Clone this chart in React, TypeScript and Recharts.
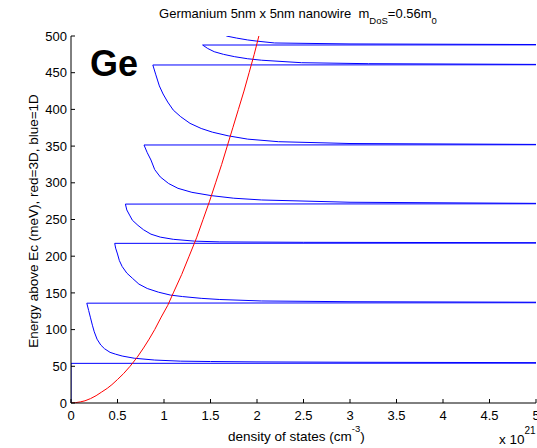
import React from 'react';
import { LineChart, Line, XAxis, YAxis, Customized } from 'recharts';

// Axis ticks
const xTicks = [0, 0.5, 1, 1.5, 2, 2.5, 3, 3.5, 4, 4.5, 5];
const yTicks = [0, 50, 100, 150, 200, 250, 300, 350, 400, 450, 500];

// Red: bulk (3D) density of states
const dos3dE = [0, 0.5, 1.5, 3, 6, 10, 15, 20, 25, 32, 40, 50, 62, 75, 87, 100, 117, 133, 150, 175, 200, 225, 250, 275, 300, 325, 350, 375, 400, 425, 450, 475, 500];
const dos3dX = [0, 0.05, 0.1, 0.15, 0.21, 0.27, 0.33, 0.39, 0.44, 0.5, 0.565, 0.635, 0.71, 0.78, 0.84, 0.9, 0.97, 1.04, 1.1, 1.19, 1.27, 1.35, 1.42, 1.49, 1.555, 1.62, 1.68, 1.74, 1.8, 1.86, 1.915, 1.97, 2.02];

// Blue: nanowire (1D) density of states (in drawing order)
const dos1dX = [
  0, 0, 5,
  5, 3, 2, 1.5, 1.18, 0.9, 0.68, 0.55, 0.48, 0.42, 0.36, 0.32, 0.28, 0.25, 0.23, 0.21, 0.19, 0.17,
  5,
  5, 3, 2.05, 1.6, 1.4, 1.2, 1.07, 0.94, 0.82, 0.73, 0.66, 0.6, 0.55, 0.52, 0.5, 0.48, 0.47,
  5,
  5, 2.5, 1.6, 1.33, 1.1, 0.96, 0.86, 0.78, 0.72, 0.66, 0.63, 0.6, 0.585,
  5,
  5, 3, 2.05, 1.75, 1.51, 1.3, 1.15, 1.05, 0.96, 0.9, 0.86, 0.82, 0.785,
  5,
  5, 3, 2.23, 1.9, 1.69, 1.52, 1.4, 1.28, 1.18, 1.1, 1.04, 0.99, 0.95, 0.93, 0.91, 0.88,
  5,
  5, 3.2, 2.48, 2.05, 1.9, 1.76, 1.64, 1.54, 1.47, 1.415,
  5,
  5, 3, 2.19, 2, 1.9, 1.78, 1.67,
];
const dos1dE = [
  0, 54, 54.3,
  55, 55.5, 56, 56.5, 57, 58.5, 61, 64, 66.5, 69, 74, 79, 87, 97, 106, 116, 126, 136,
  136.6,
  137.3, 138, 139, 141, 142.6, 145, 147, 151, 156, 162, 170, 177, 186, 194, 203, 211, 217.5,
  217.9,
  218.4, 218.9, 219.5, 220.5, 223, 226, 230, 236, 242, 249, 256, 263, 271,
  271.4,
  272, 273.5, 276.6, 279, 282.5, 287, 292.5, 299, 308, 318, 331, 341, 351.5,
  351.8,
  352.3, 353.5, 356, 359.5, 364, 369, 374, 381, 390, 399, 410, 421, 432, 440, 448, 460.5,
  460.8,
  461.3, 462.3, 463.6, 467, 469, 471.8, 475, 478.6, 483, 487.7,
  487.9,
  488.4, 489.2, 490.5, 493, 494.6, 497.2, 500,
];

const redData = dos3dX.map((x, i) => ({ x, y: dos3dE[i] }));
const blueData = dos1dX.map((x, i) => ({ x, y: dos1dE[i] }));

const FONT = '"Liberation Sans", Arial, sans-serif';

const Annotations = () => (
  <g fontFamily={FONT} fill="#000">
    <text x={298} y={17.5} textAnchor="middle" fontSize={13} style={{ whiteSpace: 'pre' }}>
      {'Germanium 5nm x 5nm nanowire  m'}
      <tspan fontSize={9.5} dy={6}>DoS</tspan>
      <tspan dy={-6}>=0.56m</tspan>
      <tspan fontSize={9.5} dy={6}>0</tspan>
    </text>
    <text x={90} y={75.5} fontSize={36} fontWeight="bold">Ge</text>
    <text x={228} y={441} fontSize={13.5}>
      density of states (cm
      <tspan fontSize={9.5} dy={-9}>-3</tspan>
      <tspan dy={9}>)</tspan>
    </text>
    <text x={499} y={444} fontSize={13.5}>
      x 10
      <tspan fontSize={10} dy={-10}>21</tspan>
    </text>
    <text
      x={38}
      y={221}
      fontSize={13.5}
      textAnchor="middle"
      transform="rotate(-90 38 221)"
    >
      Energy above Ec (meV), red=3D, blue=1D
    </text>
  </g>
);

const tickStyle = { fill: '#000', fontSize: 13, fontFamily: FONT };

export default function App() {
  return (
    <div style={{ position: 'absolute', left: 0, top: 0, width: 537, height: 448, background: '#fff' }}>
      <LineChart width={537} height={448} margin={{ top: 36, right: 1, bottom: 0, left: 0 }}>
        <XAxis
          xAxisId="b"
          type="number"
          dataKey="x"
          domain={[0, 5]}
          ticks={xTicks}
          interval={0}
          allowDataOverflow
          height={45}
          tickSize={-4}
          tickMargin={12}
          stroke="#000"
          tick={tickStyle}
        />
        <XAxis
          xAxisId="t"
          orientation="top"
          type="number"
          dataKey="x"
          domain={[0, 5]}
          ticks={xTicks}
          interval={0}
          allowDataOverflow
          height={0}
          tickSize={-4}
          stroke="#000"
          tick={false}
        />
        <YAxis
          yAxisId="l"
          type="number"
          domain={[0, 500]}
          ticks={yTicks}
          interval={0}
          allowDataOverflow
          width={71}
          tickSize={-4}
          tickMargin={8}
          stroke="#000"
          tick={tickStyle}
        />
        <YAxis
          yAxisId="r"
          orientation="right"
          type="number"
          domain={[0, 500]}
          ticks={yTicks}
          interval={0}
          allowDataOverflow
          width={0}
          tickSize={-4}
          stroke="#000"
          tick={false}
        />
        <Line
          xAxisId="b"
          yAxisId="l"
          data={blueData}
          dataKey="y"
          type="linear"
          stroke="#0000ff"
          strokeWidth={1}
          dot={false}
          isAnimationActive={false}
        />
        <Line
          xAxisId="b"
          yAxisId="l"
          data={redData}
          dataKey="y"
          type="linear"
          stroke="#ff0000"
          strokeWidth={1}
          dot={false}
          isAnimationActive={false}
        />
        <Customized component={Annotations} />
      </LineChart>
    </div>
  );
}
